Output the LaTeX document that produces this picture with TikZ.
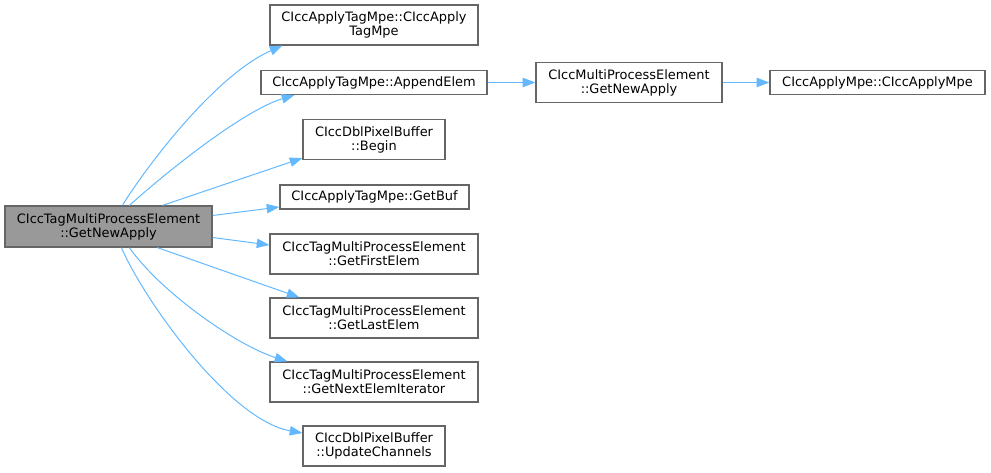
\documentclass[tikz,border=0pt]{standalone}
\usepackage{fontspec}
\setmainfont{DejaVu Sans}
\usepackage{tikz}
\usetikzlibrary{arrows.meta,calc}
\definecolor{CGEdge}{HTML}{63B8FF}
\definecolor{CGBorder}{HTML}{666666}
\definecolor{CGMainFill}{HTML}{999999}
\tikzset{
  cgnode/.style={draw=CGBorder, line width=0.9pt, fill=white, align=center,
    inner sep=2pt, minimum width=156pt, minimum height=30pt},
  cgsingle/.style={cgnode, minimum height=18pt},
  cgmain/.style={cgnode, fill=CGMainFill, minimum width=155.25pt, minimum height=30.75pt},
  cgcall/.style={-{Triangle[length=9.5pt,width=7pt]}, line width=0.75pt, draw=CGEdge}
}
\begin{document}
\begin{tikzpicture}[x=0.75pt, y=-0.75pt, font=\fontsize{9.7}{10.5}\selectfont]
  \useasboundingbox (0,0) rectangle (991,472);

  \node[cgmain] (newapply) at (108.5,226.5) {CIccTagMultiProcessElement\\::GetNewApply};

  \node[cgnode] (tagctor) at (374,25) {CIccApplyTagMpe::CIccApply\\TagMpe};
  \node[cgsingle, minimum width=169.5pt] (appendelem) at (374,82.5) {CIccApplyTagMpe::AppendElem};
  \node[cgnode, minimum width=106.5pt] (begin) at (374,139.5) {CIccDblPixelBuffer\\::Begin};
  \node[cgsingle, minimum width=141.75pt] (getbuf) at (374.5,197) {CIccApplyTagMpe::GetBuf};
  \node[cgnode] (firstelem) at (374,254) {CIccTagMultiProcessElement\\::GetFirstElem};
  \node[cgnode] (lastelem) at (374,318) {CIccTagMultiProcessElement\\::GetLastElem};
  \node[cgnode] (nextiter) at (374,382) {CIccTagMultiProcessElement\\::GetNextElemIterator};
  \node[cgnode, minimum width=106.5pt] (updatech) at (374,446) {CIccDblPixelBuffer\\::UpdateChannels};

  \node[cgnode, minimum width=139.5pt] (mpenewapply) at (629,82.5) {CIccMultiProcessElement\\::GetNewApply};
  \node[cgsingle, minimum width=161.25pt] (mpector) at (877.5,82.5) {CIccApplyMpe::CIccApplyMpe};

  \draw[cgcall] ($(newapply.north west)+(118,0)$) .. controls +(22,-36) and +(-68,30) .. ($(tagctor.south west)+(13,0)$);
  \draw[cgcall] ($(newapply.north west)+(125,0)$) .. controls +(40,-36) and +(-50,15) .. ($(appendelem.south west)+(34,0)$);
  \draw[cgcall] ($(newapply.north west)+(158,0)$) -- ($(begin.south west)+(0,-2)$);
  \draw[cgcall] ($(newapply.east)+(0,-11)$) -- ($(getbuf.west)+(0,10)$);
  \draw[cgcall] ($(newapply.east)+(0,11)$) -- ($(firstelem.west)+(0,-9)$);
  \draw[cgcall] ($(newapply.south west)+(153,0)$) -- ($(lastelem.north west)+(30,0)$);
  \draw[cgcall] ($(newapply.south west)+(125,0)$) .. controls +(30,43) and +(-53,-17) .. ($(nextiter.north west)+(18,0)$);
  \draw[cgcall] ($(newapply.south west)+(117,0)$) .. controls +(23,53) and +(-73,-13) .. ($(updatech.west)+(0,-13)$);
  \draw[cgcall] (appendelem.east) -- (mpenewapply.west);
  \draw[cgcall] (mpenewapply.east) -- (mpector.west);
\end{tikzpicture}
\end{document}
